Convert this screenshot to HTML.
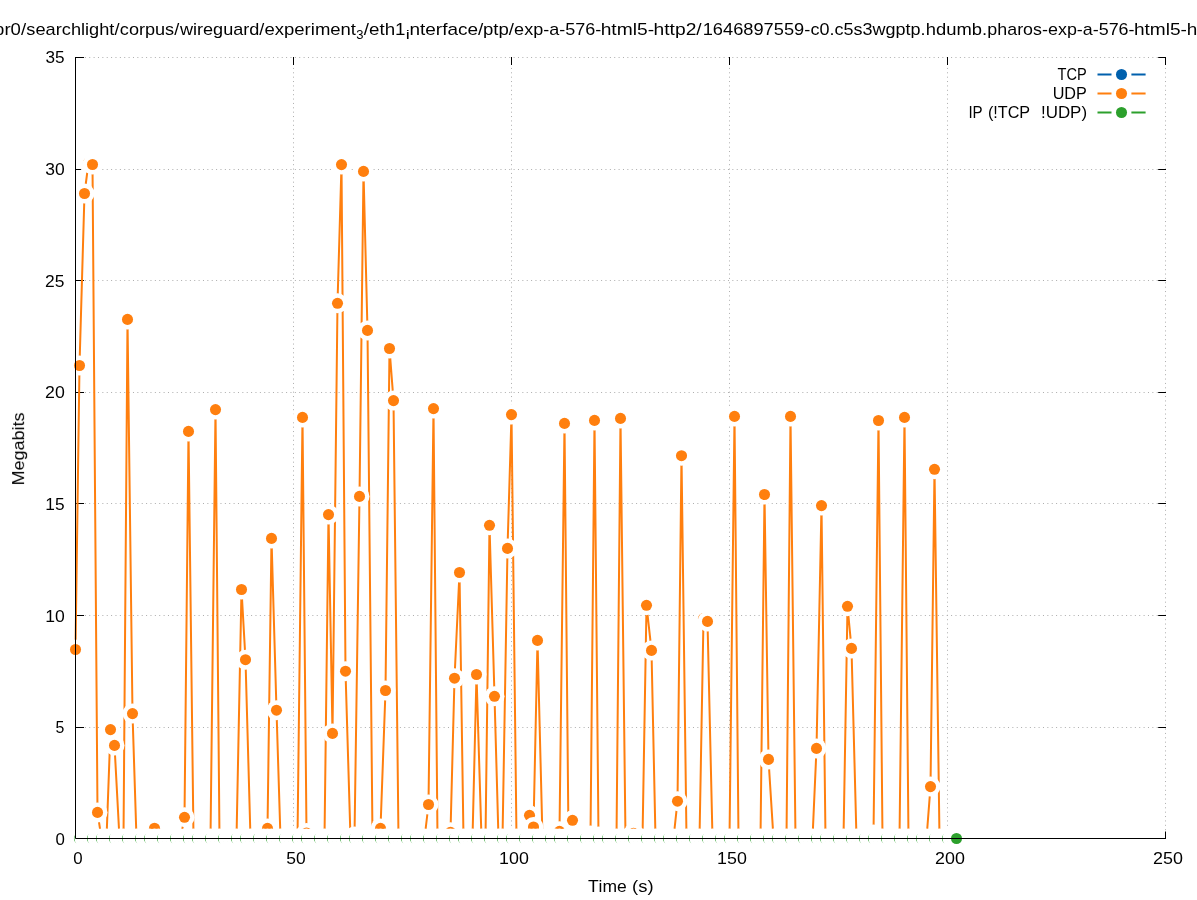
<!DOCTYPE html>
<html><head><meta charset="utf-8"><title>UDP/TCP throughput plot</title>
<style>html,body{margin:0;padding:0;background:#fff;}body{width:1197px;height:900px;overflow:hidden;font-family:"Liberation Sans",sans-serif;}</style></head>
<body>
<svg width="1197" height="900" viewBox="0 0 1197 900" style="display:block;font-family:'Liberation Sans',sans-serif;">
<rect width="1197" height="900" fill="#fff"/>
<g stroke="#adadad" stroke-width="1" stroke-dasharray="1 3.375" fill="none">
<path d="M293.5 57.5V838.5" stroke-dashoffset="2.69"/>
<path d="M511.5 57.5V838.5" stroke-dashoffset="2.69"/>
<path d="M729.5 57.5V838.5" stroke-dashoffset="2.69"/>
<path d="M947.5 57.5V838.5" stroke-dashoffset="2.69"/>
<path d="M1165.5 57.5V838.5" stroke-dashoffset="2.69"/>
<path d="M75.5 727.5H1165.5" stroke-dashoffset="3.78"/>
<path d="M75.5 615.5H1165.5" stroke-dashoffset="3.78"/>
<path d="M75.5 503.5H1165.5" stroke-dashoffset="3.78"/>
<path d="M75.5 392.5H1165.5" stroke-dashoffset="3.78"/>
<path d="M75.5 280.5H1165.5" stroke-dashoffset="3.78"/>
<path d="M75.5 169.5H1165.5" stroke-dashoffset="3.78"/>
<path d="M75.5 57.5H1165.5" stroke-dashoffset="3.78"/>
</g>
<g stroke="#000" stroke-width="1" stroke-linecap="square" fill="none">
<path d="M75.5 727.5h8M1165.5 727.5h-6.8"/>
<path d="M75.5 615.5h8M1165.5 615.5h-6.8"/>
<path d="M75.5 503.5h8M1165.5 503.5h-6.8"/>
<path d="M75.5 392.5h8M1165.5 392.5h-6.8"/>
<path d="M75.5 280.5h8M1165.5 280.5h-6.8"/>
<path d="M75.5 169.5h8M1165.5 169.5h-6.8"/>
<path d="M75.5 57.5h8M1165.5 57.5h-6.8"/>
<path d="M75.5 838.5h8M1165.5 838.5h-6.8"/>
<path d="M75.5 57.5v7M75.5 838.5v-6.5"/>
<path d="M293.5 57.5v7M293.5 838.5v-6.5"/>
<path d="M511.5 57.5v7M511.5 838.5v-6.5"/>
<path d="M729.5 57.5v7M729.5 838.5v-6.5"/>
<path d="M947.5 57.5v7M947.5 838.5v-6.5"/>
<path d="M1165.5 57.5v7M1165.5 838.5v-6.5"/>
</g>
<path d="M75.5 649.5 L79.5 365.5 L84.5 193.5 L88.5 163.0 L92.5 164.5 L97.5 812.4 L101.5 838.5 L106.5 838.5 L110.5 729.6 L114.5 745.4 L119.5 838.5 L123.5 838.5 L127.5 319.4 L132.5 713.6 L136.5 838.5 L140.5 838.5 L145.5 838.5 L149.5 838.5 L154.5 828.2 L158.5 838.5 L162.5 838.5 L167.5 838.5 L171.5 838.5 L175.5 838.5 L180.5 838.5 L184.5 817.3 L188.5 431.4 L193.5 838.5 L197.5 838.5 L202.5 838.5 L206.5 838.5 L210.5 838.5 L215.5 409.6 L219.5 838.5 L223.5 838.5 L228.5 838.5 L232.5 838.5 L236.5 838.5 L241.5 589.5 L245.5 659.7 L250.5 838.5 L254.5 838.5 L258.5 838.5 L263.5 838.5 L267.5 828.4 L271.5 538.4 L276.5 710.2 L280.5 838.5 L284.5 838.5 L289.5 838.5 L293.5 838.5 L297.5 838.5 L302.5 417.4 L306.5 833.0 L311.5 838.5 L315.5 838.5 L319.5 838.5 L324.5 838.5 L328.5 514.6 L332.5 733.4 L337.5 303.3 L341.5 164.6 L345.5 671.2 L350.5 838.5 L354.5 836.6 L359.5 496.4 L363.5 171.4 L367.5 330.4 L372.5 838.5 L376.5 838.5 L380.5 828.4 L385.5 690.5 L389.5 348.5 L393.5 400.6 L398.5 838.5 L402.5 838.5 L406.5 838.5 L411.5 838.5 L415.5 838.5 L420.5 838.5 L424.5 838.5 L428.5 804.5 L433.5 408.6 L437.5 838.5 L441.5 838.5 L446.5 838.5 L450.5 832.2 L454.5 678.2 L459.5 572.5 L463.5 838.5 L468.5 838.5 L472.5 838.5 L476.5 674.5 L481.5 838.5 L485.5 838.5 L489.5 525.3 L494.5 696.3 L498.5 838.5 L502.5 838.5 L507.5 548.4 L511.5 414.6 L516.5 838.5 L520.5 838.5 L524.5 838.5 L529.5 815.3 L533.5 827.0 L537.5 640.4 L542.5 838.5 L546.5 838.5 L550.5 838.5 L555.5 838.5 L559.5 831.3 L564.5 423.4 L568.5 838.5 L572.5 820.3 L577.5 838.5 L581.5 838.5 L585.5 838.5 L590.5 835.5 L594.5 420.4 L598.5 836.4 L603.5 838.5 L607.5 838.5 L612.5 838.5 L616.5 838.5 L620.5 418.4 L625.5 838.5 L629.5 838.5 L633.5 833.3 L638.5 838.5 L642.5 838.5 L646.5 605.3 L651.5 650.4 L655.5 838.5 L659.5 838.5 L664.5 838.5 L668.5 838.5 L673.5 838.5 L677.5 801.2 L681.5 455.7 L686.5 838.5 L690.5 838.5 L694.5 838.5 L699.5 838.5 L703.5 618.6 L707.5 621.4 L712.5 838.5 L716.5 838.5 L720.5 838.5 L725.5 838.5 L729.5 838.5 L734.5 416.4 L738.5 838.5 L742.5 838.5 L747.5 838.5 L751.5 838.5 L755.5 838.5 L760.5 838.5 L764.5 494.5 L768.5 759.4 L773.5 838.5 L777.5 838.5 L782.5 838.5 L786.5 838.5 L790.5 416.4 L795.5 838.5 L799.5 838.5 L803.5 838.5 L808.5 838.5 L812.5 838.5 L816.5 748.4 L821.5 505.6 L825.5 838.5 L830.5 838.5 L834.5 838.5 L838.5 838.5 L843.5 838.5 L847.5 606.3 L851.5 648.4 L856.5 838.5 L860.5 838.5 L864.5 838.5 L869.5 838.5 L873.5 834.6 L878.5 420.5 L882.5 838.5 L886.5 838.5 L891.5 838.5 L895.5 838.5 L899.5 838.5 L904.5 417.4 L908.5 838.5 L912.5 838.5 L917.5 838.5 L921.5 838.5 L926.5 838.5 L930.5 786.6 L934.5 469.3 L939.5 838.5" fill="none" stroke="#ff7f0e" stroke-width="2" stroke-linejoin="round"/>
<g>
<circle cx="75.5" cy="649.5" r="10.0" fill="#fff"/><circle cx="75.5" cy="649.5" r="5.55" fill="#ff7f0e"/>
<circle cx="79.5" cy="365.5" r="10.0" fill="#fff"/><circle cx="79.5" cy="365.5" r="5.55" fill="#ff7f0e"/>
<circle cx="84.5" cy="193.5" r="10.0" fill="#fff"/><circle cx="84.5" cy="193.5" r="5.55" fill="#ff7f0e"/>
<circle cx="88.5" cy="163.0" r="10.0" fill="#fff"/><circle cx="88.5" cy="163.0" r="5.55" fill="#ff7f0e"/>
<circle cx="92.5" cy="164.5" r="10.0" fill="#fff"/><circle cx="92.5" cy="164.5" r="5.55" fill="#ff7f0e"/>
<circle cx="97.5" cy="812.4" r="10.0" fill="#fff"/><circle cx="97.5" cy="812.4" r="5.55" fill="#ff7f0e"/>
<circle cx="110.5" cy="729.6" r="10.0" fill="#fff"/><circle cx="110.5" cy="729.6" r="5.55" fill="#ff7f0e"/>
<circle cx="114.5" cy="745.4" r="10.0" fill="#fff"/><circle cx="114.5" cy="745.4" r="5.55" fill="#ff7f0e"/>
<circle cx="127.5" cy="319.4" r="10.0" fill="#fff"/><circle cx="127.5" cy="319.4" r="5.55" fill="#ff7f0e"/>
<circle cx="132.5" cy="713.6" r="10.0" fill="#fff"/><circle cx="132.5" cy="713.6" r="5.55" fill="#ff7f0e"/>
<circle cx="154.5" cy="828.2" r="10.0" fill="#fff"/><circle cx="154.5" cy="828.2" r="5.55" fill="#ff7f0e"/>
<circle cx="184.5" cy="817.3" r="10.0" fill="#fff"/><circle cx="184.5" cy="817.3" r="5.55" fill="#ff7f0e"/>
<circle cx="188.5" cy="431.4" r="10.0" fill="#fff"/><circle cx="188.5" cy="431.4" r="5.55" fill="#ff7f0e"/>
<circle cx="215.5" cy="409.6" r="10.0" fill="#fff"/><circle cx="215.5" cy="409.6" r="5.55" fill="#ff7f0e"/>
<circle cx="241.5" cy="589.5" r="10.0" fill="#fff"/><circle cx="241.5" cy="589.5" r="5.55" fill="#ff7f0e"/>
<circle cx="245.5" cy="659.7" r="10.0" fill="#fff"/><circle cx="245.5" cy="659.7" r="5.55" fill="#ff7f0e"/>
<circle cx="267.5" cy="828.4" r="10.0" fill="#fff"/><circle cx="267.5" cy="828.4" r="5.55" fill="#ff7f0e"/>
<circle cx="271.5" cy="538.4" r="10.0" fill="#fff"/><circle cx="271.5" cy="538.4" r="5.55" fill="#ff7f0e"/>
<circle cx="276.5" cy="710.2" r="10.0" fill="#fff"/><circle cx="276.5" cy="710.2" r="5.55" fill="#ff7f0e"/>
<circle cx="302.5" cy="417.4" r="10.0" fill="#fff"/><circle cx="302.5" cy="417.4" r="5.55" fill="#ff7f0e"/>
<circle cx="306.5" cy="833.0" r="10.0" fill="#fff"/><circle cx="306.5" cy="833.0" r="5.55" fill="#ff7f0e"/>
<circle cx="328.5" cy="514.6" r="10.0" fill="#fff"/><circle cx="328.5" cy="514.6" r="5.55" fill="#ff7f0e"/>
<circle cx="332.5" cy="733.4" r="10.0" fill="#fff"/><circle cx="332.5" cy="733.4" r="5.55" fill="#ff7f0e"/>
<circle cx="337.5" cy="303.3" r="10.0" fill="#fff"/><circle cx="337.5" cy="303.3" r="5.55" fill="#ff7f0e"/>
<circle cx="341.5" cy="164.6" r="10.0" fill="#fff"/><circle cx="341.5" cy="164.6" r="5.55" fill="#ff7f0e"/>
<circle cx="345.5" cy="671.2" r="10.0" fill="#fff"/><circle cx="345.5" cy="671.2" r="5.55" fill="#ff7f0e"/>
<circle cx="354.5" cy="836.6" r="10.0" fill="#fff"/><circle cx="354.5" cy="836.6" r="5.55" fill="#ff7f0e"/>
<circle cx="359.5" cy="496.4" r="10.0" fill="#fff"/><circle cx="359.5" cy="496.4" r="5.55" fill="#ff7f0e"/>
<circle cx="363.5" cy="171.4" r="10.0" fill="#fff"/><circle cx="363.5" cy="171.4" r="5.55" fill="#ff7f0e"/>
<circle cx="367.5" cy="330.4" r="10.0" fill="#fff"/><circle cx="367.5" cy="330.4" r="5.55" fill="#ff7f0e"/>
<circle cx="380.5" cy="828.4" r="10.0" fill="#fff"/><circle cx="380.5" cy="828.4" r="5.55" fill="#ff7f0e"/>
<circle cx="385.5" cy="690.5" r="10.0" fill="#fff"/><circle cx="385.5" cy="690.5" r="5.55" fill="#ff7f0e"/>
<circle cx="389.5" cy="348.5" r="10.0" fill="#fff"/><circle cx="389.5" cy="348.5" r="5.55" fill="#ff7f0e"/>
<circle cx="393.5" cy="400.6" r="10.0" fill="#fff"/><circle cx="393.5" cy="400.6" r="5.55" fill="#ff7f0e"/>
<circle cx="428.5" cy="804.5" r="10.0" fill="#fff"/><circle cx="428.5" cy="804.5" r="5.55" fill="#ff7f0e"/>
<circle cx="433.5" cy="408.6" r="10.0" fill="#fff"/><circle cx="433.5" cy="408.6" r="5.55" fill="#ff7f0e"/>
<circle cx="450.5" cy="832.2" r="10.0" fill="#fff"/><circle cx="450.5" cy="832.2" r="5.55" fill="#ff7f0e"/>
<circle cx="454.5" cy="678.2" r="10.0" fill="#fff"/><circle cx="454.5" cy="678.2" r="5.55" fill="#ff7f0e"/>
<circle cx="459.5" cy="572.5" r="10.0" fill="#fff"/><circle cx="459.5" cy="572.5" r="5.55" fill="#ff7f0e"/>
<circle cx="476.5" cy="674.5" r="10.0" fill="#fff"/><circle cx="476.5" cy="674.5" r="5.55" fill="#ff7f0e"/>
<circle cx="489.5" cy="525.3" r="10.0" fill="#fff"/><circle cx="489.5" cy="525.3" r="5.55" fill="#ff7f0e"/>
<circle cx="494.5" cy="696.3" r="10.0" fill="#fff"/><circle cx="494.5" cy="696.3" r="5.55" fill="#ff7f0e"/>
<circle cx="507.5" cy="548.4" r="10.0" fill="#fff"/><circle cx="507.5" cy="548.4" r="5.55" fill="#ff7f0e"/>
<circle cx="511.5" cy="414.6" r="10.0" fill="#fff"/><circle cx="511.5" cy="414.6" r="5.55" fill="#ff7f0e"/>
<circle cx="529.5" cy="815.3" r="10.0" fill="#fff"/><circle cx="529.5" cy="815.3" r="5.55" fill="#ff7f0e"/>
<circle cx="533.5" cy="827.0" r="10.0" fill="#fff"/><circle cx="533.5" cy="827.0" r="5.55" fill="#ff7f0e"/>
<circle cx="537.5" cy="640.4" r="10.0" fill="#fff"/><circle cx="537.5" cy="640.4" r="5.55" fill="#ff7f0e"/>
<circle cx="559.5" cy="831.3" r="10.0" fill="#fff"/><circle cx="559.5" cy="831.3" r="5.55" fill="#ff7f0e"/>
<circle cx="564.5" cy="423.4" r="10.0" fill="#fff"/><circle cx="564.5" cy="423.4" r="5.55" fill="#ff7f0e"/>
<circle cx="572.5" cy="820.3" r="10.0" fill="#fff"/><circle cx="572.5" cy="820.3" r="5.55" fill="#ff7f0e"/>
<circle cx="590.5" cy="835.5" r="10.0" fill="#fff"/><circle cx="590.5" cy="835.5" r="5.55" fill="#ff7f0e"/>
<circle cx="594.5" cy="420.4" r="10.0" fill="#fff"/><circle cx="594.5" cy="420.4" r="5.55" fill="#ff7f0e"/>
<circle cx="598.5" cy="836.4" r="10.0" fill="#fff"/><circle cx="598.5" cy="836.4" r="5.55" fill="#ff7f0e"/>
<circle cx="620.5" cy="418.4" r="10.0" fill="#fff"/><circle cx="620.5" cy="418.4" r="5.55" fill="#ff7f0e"/>
<circle cx="633.5" cy="833.3" r="10.0" fill="#fff"/><circle cx="633.5" cy="833.3" r="5.55" fill="#ff7f0e"/>
<circle cx="646.5" cy="605.3" r="10.0" fill="#fff"/><circle cx="646.5" cy="605.3" r="5.55" fill="#ff7f0e"/>
<circle cx="651.5" cy="650.4" r="10.0" fill="#fff"/><circle cx="651.5" cy="650.4" r="5.55" fill="#ff7f0e"/>
<circle cx="677.5" cy="801.2" r="10.0" fill="#fff"/><circle cx="677.5" cy="801.2" r="5.55" fill="#ff7f0e"/>
<circle cx="681.5" cy="455.7" r="10.0" fill="#fff"/><circle cx="681.5" cy="455.7" r="5.55" fill="#ff7f0e"/>
<circle cx="703.5" cy="618.6" r="10.0" fill="#fff"/><circle cx="703.5" cy="618.6" r="5.55" fill="#ff7f0e"/>
<circle cx="707.5" cy="621.4" r="10.0" fill="#fff"/><circle cx="707.5" cy="621.4" r="5.55" fill="#ff7f0e"/>
<circle cx="734.5" cy="416.4" r="10.0" fill="#fff"/><circle cx="734.5" cy="416.4" r="5.55" fill="#ff7f0e"/>
<circle cx="764.5" cy="494.5" r="10.0" fill="#fff"/><circle cx="764.5" cy="494.5" r="5.55" fill="#ff7f0e"/>
<circle cx="768.5" cy="759.4" r="10.0" fill="#fff"/><circle cx="768.5" cy="759.4" r="5.55" fill="#ff7f0e"/>
<circle cx="790.5" cy="416.4" r="10.0" fill="#fff"/><circle cx="790.5" cy="416.4" r="5.55" fill="#ff7f0e"/>
<circle cx="816.5" cy="748.4" r="10.0" fill="#fff"/><circle cx="816.5" cy="748.4" r="5.55" fill="#ff7f0e"/>
<circle cx="821.5" cy="505.6" r="10.0" fill="#fff"/><circle cx="821.5" cy="505.6" r="5.55" fill="#ff7f0e"/>
<circle cx="847.5" cy="606.3" r="10.0" fill="#fff"/><circle cx="847.5" cy="606.3" r="5.55" fill="#ff7f0e"/>
<circle cx="851.5" cy="648.4" r="10.0" fill="#fff"/><circle cx="851.5" cy="648.4" r="5.55" fill="#ff7f0e"/>
<circle cx="873.5" cy="834.6" r="10.0" fill="#fff"/><circle cx="873.5" cy="834.6" r="5.55" fill="#ff7f0e"/>
<circle cx="878.5" cy="420.5" r="10.0" fill="#fff"/><circle cx="878.5" cy="420.5" r="5.55" fill="#ff7f0e"/>
<circle cx="904.5" cy="417.4" r="10.0" fill="#fff"/><circle cx="904.5" cy="417.4" r="5.55" fill="#ff7f0e"/>
<circle cx="930.5" cy="786.6" r="10.0" fill="#fff"/><circle cx="930.5" cy="786.6" r="5.55" fill="#ff7f0e"/>
<circle cx="934.5" cy="469.3" r="10.0" fill="#fff"/><circle cx="934.5" cy="469.3" r="5.55" fill="#ff7f0e"/>
</g>
<g>
<circle cx="75.5" cy="838.5" r="10.0" fill="#fff"/><circle cx="75.5" cy="838.5" r="5.55" fill="#2ca02c"/>
<circle cx="79.5" cy="838.5" r="10.0" fill="#fff"/><circle cx="79.5" cy="838.5" r="5.55" fill="#2ca02c"/>
<circle cx="84.5" cy="838.5" r="10.0" fill="#fff"/><circle cx="84.5" cy="838.5" r="5.55" fill="#2ca02c"/>
<circle cx="88.5" cy="838.5" r="10.0" fill="#fff"/><circle cx="88.5" cy="838.5" r="5.55" fill="#2ca02c"/>
<circle cx="92.5" cy="838.5" r="10.0" fill="#fff"/><circle cx="92.5" cy="838.5" r="5.55" fill="#2ca02c"/>
<circle cx="97.5" cy="838.5" r="10.0" fill="#fff"/><circle cx="97.5" cy="838.5" r="5.55" fill="#2ca02c"/>
<circle cx="101.5" cy="838.5" r="10.0" fill="#fff"/><circle cx="101.5" cy="838.5" r="5.55" fill="#2ca02c"/>
<circle cx="106.5" cy="838.5" r="10.0" fill="#fff"/><circle cx="106.5" cy="838.5" r="5.55" fill="#2ca02c"/>
<circle cx="110.5" cy="838.5" r="10.0" fill="#fff"/><circle cx="110.5" cy="838.5" r="5.55" fill="#2ca02c"/>
<circle cx="114.5" cy="838.5" r="10.0" fill="#fff"/><circle cx="114.5" cy="838.5" r="5.55" fill="#2ca02c"/>
<circle cx="119.5" cy="838.5" r="10.0" fill="#fff"/><circle cx="119.5" cy="838.5" r="5.55" fill="#2ca02c"/>
<circle cx="123.5" cy="838.5" r="10.0" fill="#fff"/><circle cx="123.5" cy="838.5" r="5.55" fill="#2ca02c"/>
<circle cx="127.5" cy="838.5" r="10.0" fill="#fff"/><circle cx="127.5" cy="838.5" r="5.55" fill="#2ca02c"/>
<circle cx="132.5" cy="838.5" r="10.0" fill="#fff"/><circle cx="132.5" cy="838.5" r="5.55" fill="#2ca02c"/>
<circle cx="136.5" cy="838.5" r="10.0" fill="#fff"/><circle cx="136.5" cy="838.5" r="5.55" fill="#2ca02c"/>
<circle cx="140.5" cy="838.5" r="10.0" fill="#fff"/><circle cx="140.5" cy="838.5" r="5.55" fill="#2ca02c"/>
<circle cx="145.5" cy="838.5" r="10.0" fill="#fff"/><circle cx="145.5" cy="838.5" r="5.55" fill="#2ca02c"/>
<circle cx="149.5" cy="838.5" r="10.0" fill="#fff"/><circle cx="149.5" cy="838.5" r="5.55" fill="#2ca02c"/>
<circle cx="154.5" cy="838.5" r="10.0" fill="#fff"/><circle cx="154.5" cy="838.5" r="5.55" fill="#2ca02c"/>
<circle cx="158.5" cy="838.5" r="10.0" fill="#fff"/><circle cx="158.5" cy="838.5" r="5.55" fill="#2ca02c"/>
<circle cx="162.5" cy="838.5" r="10.0" fill="#fff"/><circle cx="162.5" cy="838.5" r="5.55" fill="#2ca02c"/>
<circle cx="167.5" cy="838.5" r="10.0" fill="#fff"/><circle cx="167.5" cy="838.5" r="5.55" fill="#2ca02c"/>
<circle cx="171.5" cy="838.5" r="10.0" fill="#fff"/><circle cx="171.5" cy="838.5" r="5.55" fill="#2ca02c"/>
<circle cx="175.5" cy="838.5" r="10.0" fill="#fff"/><circle cx="175.5" cy="838.5" r="5.55" fill="#2ca02c"/>
<circle cx="180.5" cy="838.5" r="10.0" fill="#fff"/><circle cx="180.5" cy="838.5" r="5.55" fill="#2ca02c"/>
<circle cx="184.5" cy="838.5" r="10.0" fill="#fff"/><circle cx="184.5" cy="838.5" r="5.55" fill="#2ca02c"/>
<circle cx="188.5" cy="838.5" r="10.0" fill="#fff"/><circle cx="188.5" cy="838.5" r="5.55" fill="#2ca02c"/>
<circle cx="193.5" cy="838.5" r="10.0" fill="#fff"/><circle cx="193.5" cy="838.5" r="5.55" fill="#2ca02c"/>
<circle cx="197.5" cy="838.5" r="10.0" fill="#fff"/><circle cx="197.5" cy="838.5" r="5.55" fill="#2ca02c"/>
<circle cx="202.5" cy="838.5" r="10.0" fill="#fff"/><circle cx="202.5" cy="838.5" r="5.55" fill="#2ca02c"/>
<circle cx="206.5" cy="838.5" r="10.0" fill="#fff"/><circle cx="206.5" cy="838.5" r="5.55" fill="#2ca02c"/>
<circle cx="210.5" cy="838.5" r="10.0" fill="#fff"/><circle cx="210.5" cy="838.5" r="5.55" fill="#2ca02c"/>
<circle cx="215.5" cy="838.5" r="10.0" fill="#fff"/><circle cx="215.5" cy="838.5" r="5.55" fill="#2ca02c"/>
<circle cx="219.5" cy="838.5" r="10.0" fill="#fff"/><circle cx="219.5" cy="838.5" r="5.55" fill="#2ca02c"/>
<circle cx="223.5" cy="838.5" r="10.0" fill="#fff"/><circle cx="223.5" cy="838.5" r="5.55" fill="#2ca02c"/>
<circle cx="228.5" cy="838.5" r="10.0" fill="#fff"/><circle cx="228.5" cy="838.5" r="5.55" fill="#2ca02c"/>
<circle cx="232.5" cy="838.5" r="10.0" fill="#fff"/><circle cx="232.5" cy="838.5" r="5.55" fill="#2ca02c"/>
<circle cx="236.5" cy="838.5" r="10.0" fill="#fff"/><circle cx="236.5" cy="838.5" r="5.55" fill="#2ca02c"/>
<circle cx="241.5" cy="838.5" r="10.0" fill="#fff"/><circle cx="241.5" cy="838.5" r="5.55" fill="#2ca02c"/>
<circle cx="245.5" cy="838.5" r="10.0" fill="#fff"/><circle cx="245.5" cy="838.5" r="5.55" fill="#2ca02c"/>
<circle cx="250.5" cy="838.5" r="10.0" fill="#fff"/><circle cx="250.5" cy="838.5" r="5.55" fill="#2ca02c"/>
<circle cx="254.5" cy="838.5" r="10.0" fill="#fff"/><circle cx="254.5" cy="838.5" r="5.55" fill="#2ca02c"/>
<circle cx="258.5" cy="838.5" r="10.0" fill="#fff"/><circle cx="258.5" cy="838.5" r="5.55" fill="#2ca02c"/>
<circle cx="263.5" cy="838.5" r="10.0" fill="#fff"/><circle cx="263.5" cy="838.5" r="5.55" fill="#2ca02c"/>
<circle cx="267.5" cy="838.5" r="10.0" fill="#fff"/><circle cx="267.5" cy="838.5" r="5.55" fill="#2ca02c"/>
<circle cx="271.5" cy="838.5" r="10.0" fill="#fff"/><circle cx="271.5" cy="838.5" r="5.55" fill="#2ca02c"/>
<circle cx="276.5" cy="838.5" r="10.0" fill="#fff"/><circle cx="276.5" cy="838.5" r="5.55" fill="#2ca02c"/>
<circle cx="280.5" cy="838.5" r="10.0" fill="#fff"/><circle cx="280.5" cy="838.5" r="5.55" fill="#2ca02c"/>
<circle cx="284.5" cy="838.5" r="10.0" fill="#fff"/><circle cx="284.5" cy="838.5" r="5.55" fill="#2ca02c"/>
<circle cx="289.5" cy="838.5" r="10.0" fill="#fff"/><circle cx="289.5" cy="838.5" r="5.55" fill="#2ca02c"/>
<circle cx="293.5" cy="838.5" r="10.0" fill="#fff"/><circle cx="293.5" cy="838.5" r="5.55" fill="#2ca02c"/>
<circle cx="297.5" cy="838.5" r="10.0" fill="#fff"/><circle cx="297.5" cy="838.5" r="5.55" fill="#2ca02c"/>
<circle cx="302.5" cy="838.5" r="10.0" fill="#fff"/><circle cx="302.5" cy="838.5" r="5.55" fill="#2ca02c"/>
<circle cx="306.5" cy="838.5" r="10.0" fill="#fff"/><circle cx="306.5" cy="838.5" r="5.55" fill="#2ca02c"/>
<circle cx="311.5" cy="838.5" r="10.0" fill="#fff"/><circle cx="311.5" cy="838.5" r="5.55" fill="#2ca02c"/>
<circle cx="315.5" cy="838.5" r="10.0" fill="#fff"/><circle cx="315.5" cy="838.5" r="5.55" fill="#2ca02c"/>
<circle cx="319.5" cy="838.5" r="10.0" fill="#fff"/><circle cx="319.5" cy="838.5" r="5.55" fill="#2ca02c"/>
<circle cx="324.5" cy="838.5" r="10.0" fill="#fff"/><circle cx="324.5" cy="838.5" r="5.55" fill="#2ca02c"/>
<circle cx="328.5" cy="838.5" r="10.0" fill="#fff"/><circle cx="328.5" cy="838.5" r="5.55" fill="#2ca02c"/>
<circle cx="332.5" cy="838.5" r="10.0" fill="#fff"/><circle cx="332.5" cy="838.5" r="5.55" fill="#2ca02c"/>
<circle cx="337.5" cy="838.5" r="10.0" fill="#fff"/><circle cx="337.5" cy="838.5" r="5.55" fill="#2ca02c"/>
<circle cx="341.5" cy="838.5" r="10.0" fill="#fff"/><circle cx="341.5" cy="838.5" r="5.55" fill="#2ca02c"/>
<circle cx="345.5" cy="838.5" r="10.0" fill="#fff"/><circle cx="345.5" cy="838.5" r="5.55" fill="#2ca02c"/>
<circle cx="350.5" cy="838.5" r="10.0" fill="#fff"/><circle cx="350.5" cy="838.5" r="5.55" fill="#2ca02c"/>
<circle cx="354.5" cy="838.5" r="10.0" fill="#fff"/><circle cx="354.5" cy="838.5" r="5.55" fill="#2ca02c"/>
<circle cx="359.5" cy="838.5" r="10.0" fill="#fff"/><circle cx="359.5" cy="838.5" r="5.55" fill="#2ca02c"/>
<circle cx="363.5" cy="838.5" r="10.0" fill="#fff"/><circle cx="363.5" cy="838.5" r="5.55" fill="#2ca02c"/>
<circle cx="367.5" cy="838.5" r="10.0" fill="#fff"/><circle cx="367.5" cy="838.5" r="5.55" fill="#2ca02c"/>
<circle cx="372.5" cy="838.5" r="10.0" fill="#fff"/><circle cx="372.5" cy="838.5" r="5.55" fill="#2ca02c"/>
<circle cx="376.5" cy="838.5" r="10.0" fill="#fff"/><circle cx="376.5" cy="838.5" r="5.55" fill="#2ca02c"/>
<circle cx="380.5" cy="838.5" r="10.0" fill="#fff"/><circle cx="380.5" cy="838.5" r="5.55" fill="#2ca02c"/>
<circle cx="385.5" cy="838.5" r="10.0" fill="#fff"/><circle cx="385.5" cy="838.5" r="5.55" fill="#2ca02c"/>
<circle cx="389.5" cy="838.5" r="10.0" fill="#fff"/><circle cx="389.5" cy="838.5" r="5.55" fill="#2ca02c"/>
<circle cx="393.5" cy="838.5" r="10.0" fill="#fff"/><circle cx="393.5" cy="838.5" r="5.55" fill="#2ca02c"/>
<circle cx="398.5" cy="838.5" r="10.0" fill="#fff"/><circle cx="398.5" cy="838.5" r="5.55" fill="#2ca02c"/>
<circle cx="402.5" cy="838.5" r="10.0" fill="#fff"/><circle cx="402.5" cy="838.5" r="5.55" fill="#2ca02c"/>
<circle cx="406.5" cy="838.5" r="10.0" fill="#fff"/><circle cx="406.5" cy="838.5" r="5.55" fill="#2ca02c"/>
<circle cx="411.5" cy="838.5" r="10.0" fill="#fff"/><circle cx="411.5" cy="838.5" r="5.55" fill="#2ca02c"/>
<circle cx="415.5" cy="838.5" r="10.0" fill="#fff"/><circle cx="415.5" cy="838.5" r="5.55" fill="#2ca02c"/>
<circle cx="420.5" cy="838.5" r="10.0" fill="#fff"/><circle cx="420.5" cy="838.5" r="5.55" fill="#2ca02c"/>
<circle cx="424.5" cy="838.5" r="10.0" fill="#fff"/><circle cx="424.5" cy="838.5" r="5.55" fill="#2ca02c"/>
<circle cx="428.5" cy="838.5" r="10.0" fill="#fff"/><circle cx="428.5" cy="838.5" r="5.55" fill="#2ca02c"/>
<circle cx="433.5" cy="838.5" r="10.0" fill="#fff"/><circle cx="433.5" cy="838.5" r="5.55" fill="#2ca02c"/>
<circle cx="437.5" cy="838.5" r="10.0" fill="#fff"/><circle cx="437.5" cy="838.5" r="5.55" fill="#2ca02c"/>
<circle cx="441.5" cy="838.5" r="10.0" fill="#fff"/><circle cx="441.5" cy="838.5" r="5.55" fill="#2ca02c"/>
<circle cx="446.5" cy="838.5" r="10.0" fill="#fff"/><circle cx="446.5" cy="838.5" r="5.55" fill="#2ca02c"/>
<circle cx="450.5" cy="838.5" r="10.0" fill="#fff"/><circle cx="450.5" cy="838.5" r="5.55" fill="#2ca02c"/>
<circle cx="454.5" cy="838.5" r="10.0" fill="#fff"/><circle cx="454.5" cy="838.5" r="5.55" fill="#2ca02c"/>
<circle cx="459.5" cy="838.5" r="10.0" fill="#fff"/><circle cx="459.5" cy="838.5" r="5.55" fill="#2ca02c"/>
<circle cx="463.5" cy="838.5" r="10.0" fill="#fff"/><circle cx="463.5" cy="838.5" r="5.55" fill="#2ca02c"/>
<circle cx="468.5" cy="838.5" r="10.0" fill="#fff"/><circle cx="468.5" cy="838.5" r="5.55" fill="#2ca02c"/>
<circle cx="472.5" cy="838.5" r="10.0" fill="#fff"/><circle cx="472.5" cy="838.5" r="5.55" fill="#2ca02c"/>
<circle cx="476.5" cy="838.5" r="10.0" fill="#fff"/><circle cx="476.5" cy="838.5" r="5.55" fill="#2ca02c"/>
<circle cx="481.5" cy="838.5" r="10.0" fill="#fff"/><circle cx="481.5" cy="838.5" r="5.55" fill="#2ca02c"/>
<circle cx="485.5" cy="838.5" r="10.0" fill="#fff"/><circle cx="485.5" cy="838.5" r="5.55" fill="#2ca02c"/>
<circle cx="489.5" cy="838.5" r="10.0" fill="#fff"/><circle cx="489.5" cy="838.5" r="5.55" fill="#2ca02c"/>
<circle cx="494.5" cy="838.5" r="10.0" fill="#fff"/><circle cx="494.5" cy="838.5" r="5.55" fill="#2ca02c"/>
<circle cx="498.5" cy="838.5" r="10.0" fill="#fff"/><circle cx="498.5" cy="838.5" r="5.55" fill="#2ca02c"/>
<circle cx="502.5" cy="838.5" r="10.0" fill="#fff"/><circle cx="502.5" cy="838.5" r="5.55" fill="#2ca02c"/>
<circle cx="507.5" cy="838.5" r="10.0" fill="#fff"/><circle cx="507.5" cy="838.5" r="5.55" fill="#2ca02c"/>
<circle cx="511.5" cy="838.5" r="10.0" fill="#fff"/><circle cx="511.5" cy="838.5" r="5.55" fill="#2ca02c"/>
<circle cx="516.5" cy="838.5" r="10.0" fill="#fff"/><circle cx="516.5" cy="838.5" r="5.55" fill="#2ca02c"/>
<circle cx="520.5" cy="838.5" r="10.0" fill="#fff"/><circle cx="520.5" cy="838.5" r="5.55" fill="#2ca02c"/>
<circle cx="524.5" cy="838.5" r="10.0" fill="#fff"/><circle cx="524.5" cy="838.5" r="5.55" fill="#2ca02c"/>
<circle cx="529.5" cy="838.5" r="10.0" fill="#fff"/><circle cx="529.5" cy="838.5" r="5.55" fill="#2ca02c"/>
<circle cx="533.5" cy="838.5" r="10.0" fill="#fff"/><circle cx="533.5" cy="838.5" r="5.55" fill="#2ca02c"/>
<circle cx="537.5" cy="838.5" r="10.0" fill="#fff"/><circle cx="537.5" cy="838.5" r="5.55" fill="#2ca02c"/>
<circle cx="542.5" cy="838.5" r="10.0" fill="#fff"/><circle cx="542.5" cy="838.5" r="5.55" fill="#2ca02c"/>
<circle cx="546.5" cy="838.5" r="10.0" fill="#fff"/><circle cx="546.5" cy="838.5" r="5.55" fill="#2ca02c"/>
<circle cx="550.5" cy="838.5" r="10.0" fill="#fff"/><circle cx="550.5" cy="838.5" r="5.55" fill="#2ca02c"/>
<circle cx="555.5" cy="838.5" r="10.0" fill="#fff"/><circle cx="555.5" cy="838.5" r="5.55" fill="#2ca02c"/>
<circle cx="559.5" cy="838.5" r="10.0" fill="#fff"/><circle cx="559.5" cy="838.5" r="5.55" fill="#2ca02c"/>
<circle cx="564.5" cy="838.5" r="10.0" fill="#fff"/><circle cx="564.5" cy="838.5" r="5.55" fill="#2ca02c"/>
<circle cx="568.5" cy="838.5" r="10.0" fill="#fff"/><circle cx="568.5" cy="838.5" r="5.55" fill="#2ca02c"/>
<circle cx="572.5" cy="838.5" r="10.0" fill="#fff"/><circle cx="572.5" cy="838.5" r="5.55" fill="#2ca02c"/>
<circle cx="577.5" cy="838.5" r="10.0" fill="#fff"/><circle cx="577.5" cy="838.5" r="5.55" fill="#2ca02c"/>
<circle cx="581.5" cy="838.5" r="10.0" fill="#fff"/><circle cx="581.5" cy="838.5" r="5.55" fill="#2ca02c"/>
<circle cx="585.5" cy="838.5" r="10.0" fill="#fff"/><circle cx="585.5" cy="838.5" r="5.55" fill="#2ca02c"/>
<circle cx="590.5" cy="838.5" r="10.0" fill="#fff"/><circle cx="590.5" cy="838.5" r="5.55" fill="#2ca02c"/>
<circle cx="594.5" cy="838.5" r="10.0" fill="#fff"/><circle cx="594.5" cy="838.5" r="5.55" fill="#2ca02c"/>
<circle cx="598.5" cy="838.5" r="10.0" fill="#fff"/><circle cx="598.5" cy="838.5" r="5.55" fill="#2ca02c"/>
<circle cx="603.5" cy="838.5" r="10.0" fill="#fff"/><circle cx="603.5" cy="838.5" r="5.55" fill="#2ca02c"/>
<circle cx="607.5" cy="838.5" r="10.0" fill="#fff"/><circle cx="607.5" cy="838.5" r="5.55" fill="#2ca02c"/>
<circle cx="612.5" cy="838.5" r="10.0" fill="#fff"/><circle cx="612.5" cy="838.5" r="5.55" fill="#2ca02c"/>
<circle cx="616.5" cy="838.5" r="10.0" fill="#fff"/><circle cx="616.5" cy="838.5" r="5.55" fill="#2ca02c"/>
<circle cx="620.5" cy="838.5" r="10.0" fill="#fff"/><circle cx="620.5" cy="838.5" r="5.55" fill="#2ca02c"/>
<circle cx="625.5" cy="838.5" r="10.0" fill="#fff"/><circle cx="625.5" cy="838.5" r="5.55" fill="#2ca02c"/>
<circle cx="629.5" cy="838.5" r="10.0" fill="#fff"/><circle cx="629.5" cy="838.5" r="5.55" fill="#2ca02c"/>
<circle cx="633.5" cy="838.5" r="10.0" fill="#fff"/><circle cx="633.5" cy="838.5" r="5.55" fill="#2ca02c"/>
<circle cx="638.5" cy="838.5" r="10.0" fill="#fff"/><circle cx="638.5" cy="838.5" r="5.55" fill="#2ca02c"/>
<circle cx="642.5" cy="838.5" r="10.0" fill="#fff"/><circle cx="642.5" cy="838.5" r="5.55" fill="#2ca02c"/>
<circle cx="646.5" cy="838.5" r="10.0" fill="#fff"/><circle cx="646.5" cy="838.5" r="5.55" fill="#2ca02c"/>
<circle cx="651.5" cy="838.5" r="10.0" fill="#fff"/><circle cx="651.5" cy="838.5" r="5.55" fill="#2ca02c"/>
<circle cx="655.5" cy="838.5" r="10.0" fill="#fff"/><circle cx="655.5" cy="838.5" r="5.55" fill="#2ca02c"/>
<circle cx="659.5" cy="838.5" r="10.0" fill="#fff"/><circle cx="659.5" cy="838.5" r="5.55" fill="#2ca02c"/>
<circle cx="664.5" cy="838.5" r="10.0" fill="#fff"/><circle cx="664.5" cy="838.5" r="5.55" fill="#2ca02c"/>
<circle cx="668.5" cy="838.5" r="10.0" fill="#fff"/><circle cx="668.5" cy="838.5" r="5.55" fill="#2ca02c"/>
<circle cx="673.5" cy="838.5" r="10.0" fill="#fff"/><circle cx="673.5" cy="838.5" r="5.55" fill="#2ca02c"/>
<circle cx="677.5" cy="838.5" r="10.0" fill="#fff"/><circle cx="677.5" cy="838.5" r="5.55" fill="#2ca02c"/>
<circle cx="681.5" cy="838.5" r="10.0" fill="#fff"/><circle cx="681.5" cy="838.5" r="5.55" fill="#2ca02c"/>
<circle cx="686.5" cy="838.5" r="10.0" fill="#fff"/><circle cx="686.5" cy="838.5" r="5.55" fill="#2ca02c"/>
<circle cx="690.5" cy="838.5" r="10.0" fill="#fff"/><circle cx="690.5" cy="838.5" r="5.55" fill="#2ca02c"/>
<circle cx="694.5" cy="838.5" r="10.0" fill="#fff"/><circle cx="694.5" cy="838.5" r="5.55" fill="#2ca02c"/>
<circle cx="699.5" cy="838.5" r="10.0" fill="#fff"/><circle cx="699.5" cy="838.5" r="5.55" fill="#2ca02c"/>
<circle cx="703.5" cy="838.5" r="10.0" fill="#fff"/><circle cx="703.5" cy="838.5" r="5.55" fill="#2ca02c"/>
<circle cx="707.5" cy="838.5" r="10.0" fill="#fff"/><circle cx="707.5" cy="838.5" r="5.55" fill="#2ca02c"/>
<circle cx="712.5" cy="838.5" r="10.0" fill="#fff"/><circle cx="712.5" cy="838.5" r="5.55" fill="#2ca02c"/>
<circle cx="716.5" cy="838.5" r="10.0" fill="#fff"/><circle cx="716.5" cy="838.5" r="5.55" fill="#2ca02c"/>
<circle cx="720.5" cy="838.5" r="10.0" fill="#fff"/><circle cx="720.5" cy="838.5" r="5.55" fill="#2ca02c"/>
<circle cx="725.5" cy="838.5" r="10.0" fill="#fff"/><circle cx="725.5" cy="838.5" r="5.55" fill="#2ca02c"/>
<circle cx="729.5" cy="838.5" r="10.0" fill="#fff"/><circle cx="729.5" cy="838.5" r="5.55" fill="#2ca02c"/>
<circle cx="734.5" cy="838.5" r="10.0" fill="#fff"/><circle cx="734.5" cy="838.5" r="5.55" fill="#2ca02c"/>
<circle cx="738.5" cy="838.5" r="10.0" fill="#fff"/><circle cx="738.5" cy="838.5" r="5.55" fill="#2ca02c"/>
<circle cx="742.5" cy="838.5" r="10.0" fill="#fff"/><circle cx="742.5" cy="838.5" r="5.55" fill="#2ca02c"/>
<circle cx="747.5" cy="838.5" r="10.0" fill="#fff"/><circle cx="747.5" cy="838.5" r="5.55" fill="#2ca02c"/>
<circle cx="751.5" cy="838.5" r="10.0" fill="#fff"/><circle cx="751.5" cy="838.5" r="5.55" fill="#2ca02c"/>
<circle cx="755.5" cy="838.5" r="10.0" fill="#fff"/><circle cx="755.5" cy="838.5" r="5.55" fill="#2ca02c"/>
<circle cx="760.5" cy="838.5" r="10.0" fill="#fff"/><circle cx="760.5" cy="838.5" r="5.55" fill="#2ca02c"/>
<circle cx="764.5" cy="838.5" r="10.0" fill="#fff"/><circle cx="764.5" cy="838.5" r="5.55" fill="#2ca02c"/>
<circle cx="768.5" cy="838.5" r="10.0" fill="#fff"/><circle cx="768.5" cy="838.5" r="5.55" fill="#2ca02c"/>
<circle cx="773.5" cy="838.5" r="10.0" fill="#fff"/><circle cx="773.5" cy="838.5" r="5.55" fill="#2ca02c"/>
<circle cx="777.5" cy="838.5" r="10.0" fill="#fff"/><circle cx="777.5" cy="838.5" r="5.55" fill="#2ca02c"/>
<circle cx="782.5" cy="838.5" r="10.0" fill="#fff"/><circle cx="782.5" cy="838.5" r="5.55" fill="#2ca02c"/>
<circle cx="786.5" cy="838.5" r="10.0" fill="#fff"/><circle cx="786.5" cy="838.5" r="5.55" fill="#2ca02c"/>
<circle cx="790.5" cy="838.5" r="10.0" fill="#fff"/><circle cx="790.5" cy="838.5" r="5.55" fill="#2ca02c"/>
<circle cx="795.5" cy="838.5" r="10.0" fill="#fff"/><circle cx="795.5" cy="838.5" r="5.55" fill="#2ca02c"/>
<circle cx="799.5" cy="838.5" r="10.0" fill="#fff"/><circle cx="799.5" cy="838.5" r="5.55" fill="#2ca02c"/>
<circle cx="803.5" cy="838.5" r="10.0" fill="#fff"/><circle cx="803.5" cy="838.5" r="5.55" fill="#2ca02c"/>
<circle cx="808.5" cy="838.5" r="10.0" fill="#fff"/><circle cx="808.5" cy="838.5" r="5.55" fill="#2ca02c"/>
<circle cx="812.5" cy="838.5" r="10.0" fill="#fff"/><circle cx="812.5" cy="838.5" r="5.55" fill="#2ca02c"/>
<circle cx="816.5" cy="838.5" r="10.0" fill="#fff"/><circle cx="816.5" cy="838.5" r="5.55" fill="#2ca02c"/>
<circle cx="821.5" cy="838.5" r="10.0" fill="#fff"/><circle cx="821.5" cy="838.5" r="5.55" fill="#2ca02c"/>
<circle cx="825.5" cy="838.5" r="10.0" fill="#fff"/><circle cx="825.5" cy="838.5" r="5.55" fill="#2ca02c"/>
<circle cx="830.5" cy="838.5" r="10.0" fill="#fff"/><circle cx="830.5" cy="838.5" r="5.55" fill="#2ca02c"/>
<circle cx="834.5" cy="838.5" r="10.0" fill="#fff"/><circle cx="834.5" cy="838.5" r="5.55" fill="#2ca02c"/>
<circle cx="838.5" cy="838.5" r="10.0" fill="#fff"/><circle cx="838.5" cy="838.5" r="5.55" fill="#2ca02c"/>
<circle cx="843.5" cy="838.5" r="10.0" fill="#fff"/><circle cx="843.5" cy="838.5" r="5.55" fill="#2ca02c"/>
<circle cx="847.5" cy="838.5" r="10.0" fill="#fff"/><circle cx="847.5" cy="838.5" r="5.55" fill="#2ca02c"/>
<circle cx="851.5" cy="838.5" r="10.0" fill="#fff"/><circle cx="851.5" cy="838.5" r="5.55" fill="#2ca02c"/>
<circle cx="856.5" cy="838.5" r="10.0" fill="#fff"/><circle cx="856.5" cy="838.5" r="5.55" fill="#2ca02c"/>
<circle cx="860.5" cy="838.5" r="10.0" fill="#fff"/><circle cx="860.5" cy="838.5" r="5.55" fill="#2ca02c"/>
<circle cx="864.5" cy="838.5" r="10.0" fill="#fff"/><circle cx="864.5" cy="838.5" r="5.55" fill="#2ca02c"/>
<circle cx="869.5" cy="838.5" r="10.0" fill="#fff"/><circle cx="869.5" cy="838.5" r="5.55" fill="#2ca02c"/>
<circle cx="873.5" cy="838.5" r="10.0" fill="#fff"/><circle cx="873.5" cy="838.5" r="5.55" fill="#2ca02c"/>
<circle cx="878.5" cy="838.5" r="10.0" fill="#fff"/><circle cx="878.5" cy="838.5" r="5.55" fill="#2ca02c"/>
<circle cx="882.5" cy="838.5" r="10.0" fill="#fff"/><circle cx="882.5" cy="838.5" r="5.55" fill="#2ca02c"/>
<circle cx="886.5" cy="838.5" r="10.0" fill="#fff"/><circle cx="886.5" cy="838.5" r="5.55" fill="#2ca02c"/>
<circle cx="891.5" cy="838.5" r="10.0" fill="#fff"/><circle cx="891.5" cy="838.5" r="5.55" fill="#2ca02c"/>
<circle cx="895.5" cy="838.5" r="10.0" fill="#fff"/><circle cx="895.5" cy="838.5" r="5.55" fill="#2ca02c"/>
<circle cx="899.5" cy="838.5" r="10.0" fill="#fff"/><circle cx="899.5" cy="838.5" r="5.55" fill="#2ca02c"/>
<circle cx="904.5" cy="838.5" r="10.0" fill="#fff"/><circle cx="904.5" cy="838.5" r="5.55" fill="#2ca02c"/>
<circle cx="908.5" cy="838.5" r="10.0" fill="#fff"/><circle cx="908.5" cy="838.5" r="5.55" fill="#2ca02c"/>
<circle cx="912.5" cy="838.5" r="10.0" fill="#fff"/><circle cx="912.5" cy="838.5" r="5.55" fill="#2ca02c"/>
<circle cx="917.5" cy="838.5" r="10.0" fill="#fff"/><circle cx="917.5" cy="838.5" r="5.55" fill="#2ca02c"/>
<circle cx="921.5" cy="838.5" r="10.0" fill="#fff"/><circle cx="921.5" cy="838.5" r="5.55" fill="#2ca02c"/>
<circle cx="926.5" cy="838.5" r="10.0" fill="#fff"/><circle cx="926.5" cy="838.5" r="5.55" fill="#2ca02c"/>
<circle cx="930.5" cy="838.5" r="10.0" fill="#fff"/><circle cx="930.5" cy="838.5" r="5.55" fill="#2ca02c"/>
<circle cx="934.5" cy="838.5" r="10.0" fill="#fff"/><circle cx="934.5" cy="838.5" r="5.55" fill="#2ca02c"/>
<circle cx="939.5" cy="838.5" r="10.0" fill="#fff"/><circle cx="939.5" cy="838.5" r="5.55" fill="#2ca02c"/>
<circle cx="943.5" cy="838.5" r="10.0" fill="#fff"/><circle cx="943.5" cy="838.5" r="5.55" fill="#2ca02c"/>
<circle cx="947.5" cy="838.5" r="10.0" fill="#fff"/><circle cx="947.5" cy="838.5" r="5.55" fill="#2ca02c"/>
<circle cx="952.5" cy="838.5" r="10.0" fill="#fff"/><circle cx="952.5" cy="838.5" r="5.55" fill="#2ca02c"/>
<circle cx="956.5" cy="838.5" r="10.0" fill="#fff"/><circle cx="956.5" cy="838.5" r="5.55" fill="#2ca02c"/>
</g>
<path d="M75.5 57.5V838.5H1165.5" fill="none" stroke="#000" stroke-width="1" stroke-linecap="square"/>
<path d="M1097.5 74.5H1111.5M1131.4 74.5H1145.6" stroke="#0060ad" stroke-width="2" fill="none"/><circle cx="1121.5" cy="74.5" r="5.55" fill="#0060ad"/>
<path d="M1097.5 93.5H1111.5M1131.4 93.5H1145.6" stroke="#ff7f0e" stroke-width="2" fill="none"/><circle cx="1121.5" cy="93.5" r="5.55" fill="#ff7f0e"/>
<path d="M1097.5 112.5H1111.5M1131.4 112.5H1145.6" stroke="#2ca02c" stroke-width="2" fill="none"/><circle cx="1121.5" cy="112.5" r="5.55" fill="#2ca02c"/>
<g fill="#000" opacity="0.999" style="font-kerning:none">
<text x="55.42" y="845.0" font-size="16.4" textLength="9.38" lengthAdjust="spacingAndGlyphs">0</text>
<text x="55.62" y="733.2" font-size="16.4" textLength="8.85" lengthAdjust="spacingAndGlyphs">5</text>
<text x="45.26" y="622.2" font-size="16.4" textLength="19.57" lengthAdjust="spacingAndGlyphs">10</text>
<text x="45.28" y="510.1" font-size="16.4" textLength="19.25" lengthAdjust="spacingAndGlyphs">15</text>
<text x="45.12" y="398.1" font-size="16.4" textLength="19.71" lengthAdjust="spacingAndGlyphs">20</text>
<text x="45.14" y="287.1" font-size="16.4" textLength="19.40" lengthAdjust="spacingAndGlyphs">25</text>
<text x="45.39" y="175.0" font-size="16.4" textLength="19.43" lengthAdjust="spacingAndGlyphs">30</text>
<text x="45.40" y="63.1" font-size="16.4" textLength="19.12" lengthAdjust="spacingAndGlyphs">35</text>
<text x="73.31" y="864.2" font-size="16.4" textLength="9.38" lengthAdjust="spacingAndGlyphs">0</text>
<text x="286.35" y="864.2" font-size="16.4" textLength="19.45" lengthAdjust="spacingAndGlyphs">50</text>
<text x="499.13" y="864.2" font-size="16.4" textLength="29.78" lengthAdjust="spacingAndGlyphs">100</text>
<text x="717.13" y="864.2" font-size="16.4" textLength="29.78" lengthAdjust="spacingAndGlyphs">150</text>
<text x="935.00" y="864.2" font-size="16.4" textLength="29.91" lengthAdjust="spacingAndGlyphs">200</text>
<text x="1153.00" y="864.2" font-size="16.4" textLength="29.91" lengthAdjust="spacingAndGlyphs">250</text>
<text x="587.91" y="891.9" font-size="16.4" textLength="38.87" lengthAdjust="spacingAndGlyphs">Time</text>
<text x="632.06" y="891.9" font-size="16.4" textLength="21.49" lengthAdjust="spacingAndGlyphs">(s)</text>
<text transform="translate(24.1 483.9) rotate(-90)" x="-1.47" y="0" font-size="16.4" textLength="72.92" lengthAdjust="spacingAndGlyphs">Megabits</text>
<text x="1057.57" y="79.8" font-size="16.4" textLength="29.20" lengthAdjust="spacingAndGlyphs">TCP</text>
<text x="1052.65" y="98.8" font-size="16.4" textLength="34.20" lengthAdjust="spacingAndGlyphs">UDP</text>
<text x="968.40" y="117.8" font-size="16.4" textLength="14.29" lengthAdjust="spacingAndGlyphs">IP</text>
<text x="987.90" y="117.8" font-size="16.4" textLength="42.26" lengthAdjust="spacingAndGlyphs">(!TCP</text>
<text x="1040.97" y="117.8" font-size="16.4" textLength="46.08" lengthAdjust="spacingAndGlyphs">!UDP)</text>
<text x="-5.90" y="35" font-size="16.4" textLength="32.00" lengthAdjust="spacingAndGlyphs">pr0/</text>
<text x="26.39" y="35" font-size="16.4" textLength="93.11" lengthAdjust="spacingAndGlyphs">searchlight/</text>
<text x="119.83" y="35" font-size="16.4" textLength="59.37" lengthAdjust="spacingAndGlyphs">corpus/</text>
<text x="179.93" y="35" font-size="16.4" textLength="84.47" lengthAdjust="spacingAndGlyphs">wireguard/</text>
<text x="264.51" y="35" font-size="16.4" textLength="91.52" lengthAdjust="spacingAndGlyphs">experiment</text>
<text x="356.30" y="38.5" font-size="12" textLength="7.27" lengthAdjust="spacingAndGlyphs">3</text>
<text x="363.80" y="35" font-size="16.4" textLength="41.72" lengthAdjust="spacingAndGlyphs">/eth1</text>
<text x="405.68" y="38.5" font-size="12" textLength="4.04" lengthAdjust="spacingAndGlyphs">i</text>
<text x="409.44" y="35" font-size="16.4" textLength="73.86" lengthAdjust="spacingAndGlyphs">nterface/</text>
<text x="483.00" y="35" font-size="16.4" textLength="31.00" lengthAdjust="spacingAndGlyphs">ptp/</text>
<text x="514.14" y="35" font-size="16.4" textLength="87.06" lengthAdjust="spacingAndGlyphs">exp-a-576-</text>
<text x="600.67" y="35" font-size="16.4" textLength="53.39" lengthAdjust="spacingAndGlyphs">html5-</text>
<text x="653.57" y="35" font-size="16.4" textLength="48.13" lengthAdjust="spacingAndGlyphs">http2/</text>
<text x="702.71" y="35" font-size="16.4" textLength="107.60" lengthAdjust="spacingAndGlyphs">1646897559-</text>
<text x="810.44" y="35" font-size="16.4" textLength="115.01" lengthAdjust="spacingAndGlyphs">c0.c5s3wgptp.</text>
<text x="925.72" y="35" font-size="16.4" textLength="61.36" lengthAdjust="spacingAndGlyphs">hdumb.</text>
<text x="987.35" y="35" font-size="16.4" textLength="60.54" lengthAdjust="spacingAndGlyphs">pharos-</text>
<text x="1048.04" y="35" font-size="16.4" textLength="86.45" lengthAdjust="spacingAndGlyphs">exp-a-576-</text>
<text x="1133.98" y="35" font-size="16.4" textLength="52.97" lengthAdjust="spacingAndGlyphs">html5-</text>
<text x="1186.69" y="35" font-size="16.4" textLength="42.17" lengthAdjust="spacingAndGlyphs">http2</text>
</g>
</svg>
</body></html>
